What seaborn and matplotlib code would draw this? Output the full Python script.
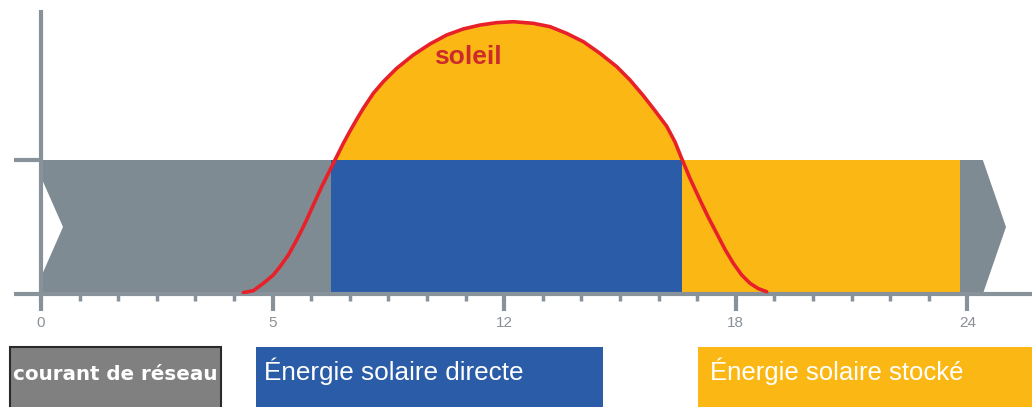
import matplotlib.pyplot as plt
import seaborn as sns
import numpy as np
from matplotlib.patches import Rectangle, Polygon

# ==========================================
# 1. Données (heures / niveaux)
# ==========================================
sun_hours = [5.242, 5.501, 5.760, 6.019, 6.192, 6.408, 6.623, 6.839, 7.055, 7.271,
             7.487, 7.660, 7.832, 8.005, 8.178, 8.351, 8.610, 8.869, 9.214, 9.646,
             10.078, 10.510, 10.941, 11.373, 11.805, 12.237, 12.755, 13.187, 13.618,
             14.050, 14.482, 14.914, 15.259, 15.604, 15.907, 16.209, 16.425, 16.597,
             16.813, 17.073, 17.288, 17.504, 17.720, 17.936, 18.152, 18.368, 18.584,
             18.800]
sun_level = [0.010, 0.025, 0.080, 0.142, 0.204, 0.291, 0.403, 0.527, 0.664, 0.801,
             0.925, 1.025, 1.124, 1.216, 1.303, 1.386, 1.498, 1.585, 1.684, 1.784,
             1.866, 1.933, 1.978, 2.007, 2.025, 2.032, 2.020, 1.995, 1.945,
             1.883, 1.796, 1.697, 1.597, 1.480, 1.368, 1.252, 1.135, 1.012,
             0.863, 0.701, 0.572, 0.453, 0.333, 0.229, 0.142, 0.080, 0.040,
             0.017]

# bande : réseau (0 -> 25 avec flèche), directe, stockée
segment_names = ["Énergie solaire directe", "Énergie solaire stocké"]
segment_start = [7.51, 16.6]
segment_end = [16.6, 23.8]
grid_end = 25.0

tick_pos = [0, 6, 12, 18, 24]
tick_labels = ["0", "5", "12", "18", "24"]

legend_labels = ["courant de réseau", "Énergie solaire directe", "Énergie solaire stocké"]

GREY = "#7f8b92"
AXIS = "#87929a"
BLUE = "#2b5ca8"
YELLOW = "#fbb815"
RED = "#e8202a"

# ==========================================
# 2. Figure
# ==========================================
sns.set_theme(style="white")
plt.rcParams["font.family"] = ["Liberation Sans", "DejaVu Sans"]

W, H = 1032, 407
fig = plt.figure(figsize=(W / 100, H / 100), dpi=100)
ax = fig.add_axes([0, (H - 294) / H, 1, 294 / H])
ax.set_xlim(-41 / 38.6, (W - 41) / 38.6)
ax.set_ylim(0, 294 / 134)
for s in ax.spines.values():
    s.set_visible(False)

# soleil : remplissage sous la courbe
ax.fill_between(sun_hours, 0, sun_level, color=YELLOW, lw=0, zorder=1)

# bande grise avec encoche et flèche
grey_poly = Polygon([(0, 0), (grid_end - 0.6, 0), (grid_end, 0.5), (grid_end - 0.6, 1),
                     (0, 1), (0, 0.873), (0.57, 0.5), (0, 0.127)],
                    closed=True, facecolor=GREY, edgecolor="none", zorder=2)
ax.add_patch(grey_poly)

# segments solaires
widths = [e - s for s, e in zip(segment_start, segment_end)]
ax.barh(y=[0.5, 0.5], width=widths, left=segment_start, height=1.0,
        color=[BLUE, YELLOW], edgecolor="none", zorder=3)

# courbe du soleil
sns.lineplot(x=sun_hours, y=sun_level, color=RED, lw=2.6, ax=ax, zorder=5)
ax.text(11.06, 1.77, "soleil", color="#cc2b2b", fontsize=19, fontweight="bold",
        ha="center", va="center", zorder=6)

# axes dessinés à la main
ax.plot([-0.7, 25.7], [0, 0], color=AXIS, lw=3, clip_on=False, zorder=4,
        solid_capstyle="butt")
ax.plot([0, 0], [-0.05, 2.12], color=AXIS, lw=3, clip_on=False, zorder=4,
        solid_capstyle="butt")
ax.plot([-0.7, 0], [1, 1], color=AXIS, lw=3, clip_on=False, zorder=4,
        solid_capstyle="butt")

ax.set_yticks([])
ax.set_xticks(tick_pos)
ax.set_xticklabels(tick_labels)
ax.set_xticks([h for h in range(1, 24) if h % 6 != 0], minor=True)
ax.tick_params(axis="x", which="major", bottom=True, length=12, width=3,
               color=AXIS, labelcolor="#8a9096", labelsize=11, pad=4)
ax.tick_params(axis="x", which="minor", bottom=True, length=5, width=2.5,
               color=AXIS)

# ==========================================
# 3. Légende (boîtes en bas)
# ==========================================
def fig_box(x0, x1, color, edge=None):
    r = Rectangle((x0 / W, -5 / H), (x1 - x0) / W, (60 + 5) / H,
                  transform=fig.transFigure, facecolor=color,
                  edgecolor=edge if edge else "none", lw=1.5 if edge else 0)
    fig.add_artist(r)

fig_box(10, 221, "#808080", "#2a2a2a")
fig_box(256, 603, BLUE)
fig_box(698, 1040, YELLOW)

base_y = 27 / H
fig.text(115 / W, base_y, legend_labels[0], color="white", fontsize=14.3,
         fontweight="bold", family="DejaVu Sans", ha="center", va="baseline")
fig.text(264 / W, base_y, legend_labels[1], color="white", fontsize=18.8,
         ha="left", va="baseline")
fig.text(710 / W, base_y, legend_labels[2], color="white", fontsize=18.5,
         ha="left", va="baseline")

plt.savefig("out.png", dpi=100)
